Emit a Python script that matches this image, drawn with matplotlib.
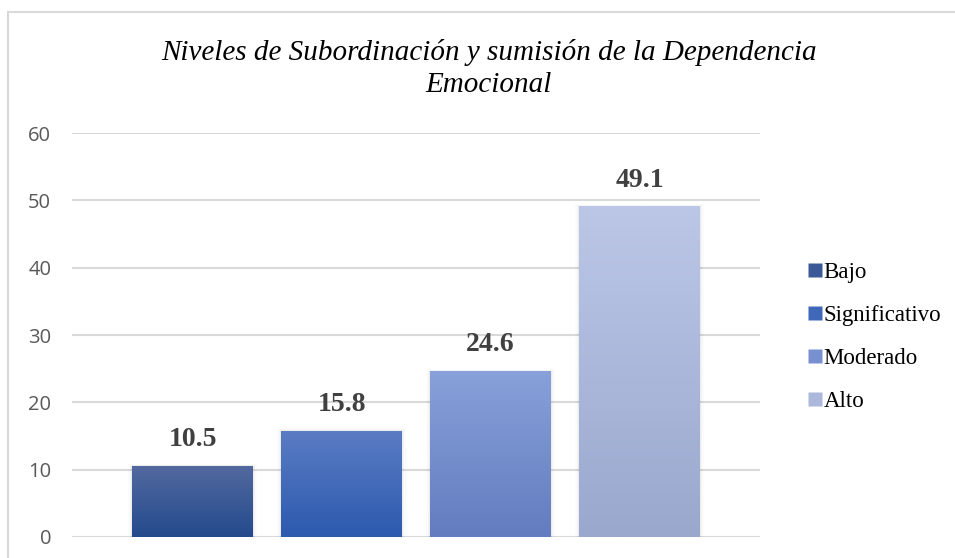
import matplotlib
matplotlib.use("Agg")
import matplotlib.pyplot as plt
import numpy as np
from matplotlib.colors import LinearSegmentedColormap
from matplotlib.patches import Rectangle
from matplotlib.lines import Line2D

categories = ["Bajo", "Significativo", "Moderado", "Alto"]
values = [10.5, 15.8, 24.6, 49.1]
labels = ["10.5", "15.8", "24.6", "49.1"]
yticks = [0, 10, 20, 30, 40, 50, 60]
title = "Niveles de Subordinación y sumisión de la Dependencia\nEmocional"
top_colors = ["#52699f", "#5b7cc4", "#88a1da", "#bcc7e7"]
bottom_colors = ["#244a8d", "#2c5aae", "#627cbf", "#9aa8ce"]
legend_colors = ["#3a5996", "#3f68b8", "#7890cf", "#abb8dc"]

fig = plt.figure(figsize=(9.55, 5.58), dpi=100)
fig.patches.append(Rectangle((8/955, -0.1), 1.2, 1 - 12/558 + 0.1, transform=fig.transFigure,
                             fill=False, edgecolor="#d9d9d9", linewidth=1.5, zorder=0))
ax = fig.add_axes([72/955, 1 - 537/558, (760 - 72)/955, (537 - 133)/558])
ax.set_yticks(yticks)
ax.set_yticklabels([str(t) for t in yticks], fontfamily="Open Sans", fontsize=14.5, color="#595959")
ax.tick_params(axis="y", length=0, pad=15)
ax.set_xticks([])
for s in ax.spines.values():
    s.set_visible(False)
ax.grid(axis="y", color="#d9d9d9", linewidth=1.5, zorder=0)
ax.set_axisbelow(True)

width = 121 / 149
x = np.arange(len(values))
grad = np.linspace(0, 1, 256).reshape(-1, 1)
for i, v in enumerate(values):
    for k, a in enumerate([0.035, 0.025, 0.015]):
        sh = Rectangle((x[i] - width/2 - 0.008*(k+1), 0), width + 0.016*(k+1), v + 0.12*(k+1),
                       facecolor="black", alpha=a, edgecolor="none", zorder=1)
        ax.add_patch(sh)
    bar = ax.bar(x[i], v, width=width, color="none", edgecolor="none", zorder=2)[0]
    cmap = LinearSegmentedColormap.from_list(f"g{i}", [bottom_colors[i], top_colors[i]])
    im = ax.imshow(grad, cmap=cmap, aspect="auto", origin="lower",
                   extent=[x[i] - width/2, x[i] + width/2, 0, v], zorder=3)
    im.set_clip_path(bar)
    ax.annotate(labels[i], (x[i], v), xytext=(0, 19), textcoords="offset points",
                ha="center", va="center", fontfamily="Liberation Serif",
                fontweight="bold", fontsize=20, color="#404040")
ax.set_xlim(-0.809, 3.809)
ax.set_ylim(0, 60)

fig.text(489/955, 1 - 69/558, title, ha="center", va="center", fontfamily="Liberation Serif",
         style="italic", fontsize=21, color="#000000", linespacing=1.3)

handles = [Line2D([], [], marker="s", linestyle="none", markersize=10,
                  markerfacecolor=c, markeredgecolor="none") for c in legend_colors]
fig.legend(handles, categories, loc="center left", bbox_to_anchor=(794/955, 1 - 337/558),
           frameon=False, prop={"family": "Liberation Serif", "size": 16.5},
           handletextpad=0.0, labelspacing=0.95, handlelength=0.8, borderpad=0)

fig.savefig("out.png", dpi=100)
